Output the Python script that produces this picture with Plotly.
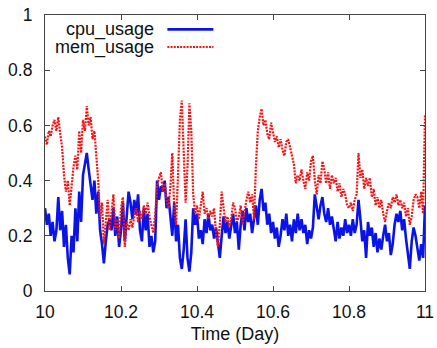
import plotly.graph_objects as go

# sampling grid: 201 samples over the day 10 -> 11
time_day = [round(10 + i * 0.005, 3) for i in range(201)]

cpu_usage = [
    0.30, 0.24, 0.28, 0.20, 0.25, 0.18, 0.22, 0.34, 0.22, 0.29,
    0.16, 0.24, 0.12, 0.06, 0.20, 0.14, 0.30, 0.18, 0.36, 0.25,
    0.42, 0.46, 0.50, 0.44, 0.38, 0.33, 0.40, 0.28, 0.36, 0.22,
    0.17, 0.10, 0.18, 0.24, 0.26,
    0.22, 0.30, 0.20, 0.27, 0.16, 0.22, 0.32, 0.18, 0.27, 0.36,
    0.32, 0.26, 0.33, 0.28, 0.35, 0.22, 0.18, 0.30, 0.22, 0.28,
    0.16, 0.20, 0.14, 0.18, 0.40, 0.33, 0.38, 0.36, 0.40, 0.30,
    0.34, 0.26, 0.20,
    0.32, 0.18, 0.24, 0.12, 0.08, 0.15, 0.26, 0.12, 0.07, 0.14,
    0.30, 0.24, 0.28, 0.19, 0.22, 0.17, 0.26, 0.21, 0.28, 0.22,
    0.24, 0.19, 0.23, 0.17, 0.12, 0.20, 0.27, 0.21, 0.25, 0.19,
    0.23, 0.28, 0.21, 0.25,
    0.15, 0.24, 0.29, 0.22, 0.30, 0.25, 0.28, 0.21, 0.26, 0.31,
    0.24, 0.33, 0.37, 0.29, 0.32, 0.24, 0.28, 0.21, 0.25, 0.19,
    0.23, 0.16, 0.20, 0.26, 0.22, 0.28, 0.20, 0.24, 0.18, 0.26,
    0.21, 0.28, 0.22, 0.26,
    0.21, 0.24, 0.17, 0.22, 0.19, 0.23, 0.35, 0.30, 0.26, 0.31,
    0.34, 0.28, 0.25, 0.30, 0.24, 0.27, 0.22, 0.18, 0.25, 0.19,
    0.23, 0.20, 0.26, 0.21, 0.24, 0.20, 0.26, 0.21, 0.24, 0.33,
    0.26, 0.18, 0.22, 0.12,
    0.25, 0.20, 0.23, 0.16, 0.21, 0.14, 0.19, 0.15, 0.20, 0.24,
    0.18, 0.21, 0.13, 0.17, 0.24, 0.28, 0.25, 0.29, 0.22, 0.26,
    0.19, 0.14, 0.08, 0.18, 0.23, 0.20, 0.15, 0.11, 0.17, 0.12,
    0.31,
]

mem_usage = [
    0.56, 0.53, 0.58, 0.56, 0.60, 0.62, 0.58, 0.63, 0.57, 0.52,
    0.42, 0.36, 0.40, 0.31, 0.38, 0.45, 0.49, 0.44, 0.58, 0.50,
    0.62, 0.58, 0.67, 0.60, 0.63, 0.55, 0.58, 0.48, 0.40, 0.26,
    0.32, 0.17, 0.24, 0.33, 0.22,
    0.30, 0.35, 0.22, 0.26, 0.19, 0.30, 0.34, 0.16, 0.25, 0.22,
    0.26, 0.23, 0.27, 0.30, 0.25, 0.29, 0.26, 0.31, 0.28, 0.32,
    0.27, 0.24, 0.21, 0.28, 0.38, 0.41, 0.43, 0.36, 0.39, 0.33,
    0.30, 0.38, 0.50,
    0.30, 0.24, 0.42, 0.62, 0.69, 0.50, 0.32, 0.45, 0.68, 0.58,
    0.35, 0.28, 0.31, 0.26, 0.32, 0.36, 0.28, 0.30, 0.26, 0.29,
    0.27, 0.30, 0.21, 0.16, 0.24, 0.36, 0.30, 0.25, 0.27, 0.23,
    0.26, 0.32, 0.30, 0.25,
    0.27, 0.31, 0.24, 0.29, 0.33, 0.36, 0.32, 0.35, 0.26, 0.45,
    0.58, 0.63, 0.66, 0.60, 0.62, 0.57, 0.55, 0.61, 0.58, 0.54,
    0.56, 0.52, 0.55, 0.51, 0.49, 0.54, 0.55, 0.52, 0.50, 0.46,
    0.39, 0.42, 0.40, 0.44,
    0.40, 0.37, 0.43, 0.40, 0.47, 0.49, 0.40, 0.35, 0.42, 0.39,
    0.47, 0.44, 0.39, 0.43, 0.37, 0.42, 0.39, 0.41, 0.36, 0.39,
    0.34, 0.37, 0.35, 0.31, 0.30, 0.32, 0.29, 0.33, 0.35, 0.50,
    0.41, 0.44, 0.37, 0.41,
    0.38, 0.41, 0.34, 0.37, 0.31, 0.34, 0.30, 0.33, 0.28, 0.25,
    0.29, 0.32, 0.30, 0.34, 0.32, 0.35, 0.31, 0.33, 0.30, 0.32,
    0.27, 0.30, 0.24, 0.27, 0.33, 0.35, 0.34, 0.30, 0.36, 0.28,
    0.64,
]

x_ticks = [10, 10.2, 10.4, 10.6, 10.8, 11]
x_tick_labels = ["10", "10.2", "10.4", "10.6", "10.8", "11"]
y_ticks = [0, 0.2, 0.4, 0.6, 0.8, 1]
y_tick_labels = ["0", "0.2", "0.4", "0.6", "0.8", "1"]
series_names = ["cpu_usage", "mem_usage"]

BLUE = "#0a14e6"
RED = "#f01414"
FONT = "Liberation Sans, Arial, sans-serif"

fig = go.Figure()
fig.add_trace(go.Scatter(x=time_day, y=cpu_usage, mode="lines", name=series_names[0],
                         line=dict(color=BLUE, width=2.6), showlegend=False))
fig.add_trace(go.Scatter(x=time_day, y=mem_usage, mode="lines", name=series_names[1],
                         line=dict(color=RED, width=2.2, dash="2px,1.2px"), showlegend=False))

# gnuplot-style key: text right-aligned, line sample on the right
key_rows = [(series_names[0], BLUE, None, 0.948), (series_names[1], RED, "2px,1.2px", 0.884)]
for name, col, dash, yp in key_rows:
    fig.add_annotation(x=0.292, y=yp, xref="paper", yref="paper", text=name,
                       showarrow=False, xanchor="right", yanchor="middle",
                       font=dict(family=FONT, size=18, color="#111"))
    fig.add_shape(type="line", xref="paper", yref="paper", x0=0.322, x1=0.443,
                  y0=yp, y1=yp, line=dict(color=col, width=2.6 if dash is None else 2.2,
                                          dash=dash or "solid"))

axis_common = dict(showgrid=False, zeroline=False, showline=True, linecolor="#444",
                   linewidth=1.2, mirror="allticks", ticks="inside", ticklen=5,
                   tickcolor="#444", tickfont=dict(family=FONT, size=17.5, color="#111"))

fig.update_xaxes(range=[10, 11], tickvals=x_ticks, ticktext=x_tick_labels,
                 ticklabelstandoff=5,
                 title=dict(text="Time (Day)", font=dict(family=FONT, size=18, color="#111"),
                            standoff=6), **axis_common)
fig.update_yaxes(range=[0, 1], tickvals=y_ticks, ticktext=y_tick_labels,
                 ticklabelstandoff=8, **axis_common)

fig.update_layout(width=437, height=348, margin=dict(l=44.5, r=12, t=15, b=57, autoexpand=False),
                  paper_bgcolor="white", plot_bgcolor="white",
                  font=dict(family=FONT, color="#111"))

fig.write_html("out.html", config={"displayModeBar": False},
               post_script="document.body.style.margin='0';document.body.style.padding='0';")
